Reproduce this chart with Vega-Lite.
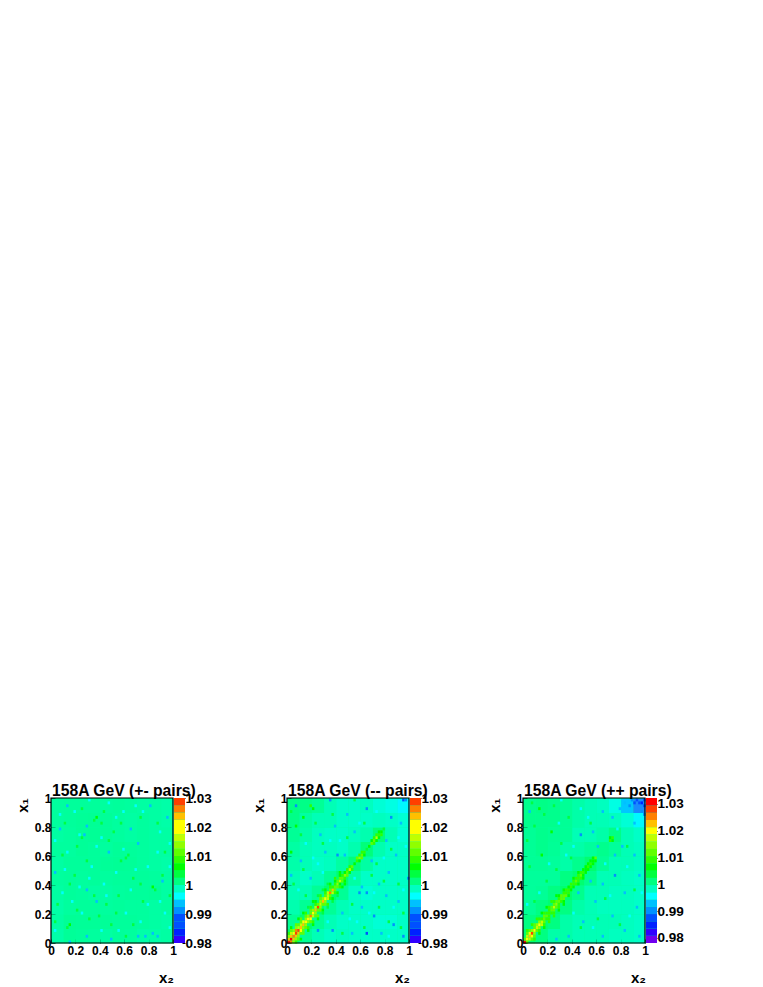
{"$schema":"https://vega.github.io/schema/vega-lite/v6.json","padding":{"left":15,"top":783,"right":0,"bottom":0},"background":"white","config":{"font":"Liberation Sans","view":{"stroke":null,"fill":"#00ffa0"},"axis":{"grid":false,"labelFont":"Liberation Sans","labelFontWeight":"bold","labelFontSize":12,"labelColor":"black","labelOverlap":false,"labelBound":false,"labelFlush":false,"domain":false,"tickColor":"black","tickSize":-4,"titleFont":"Liberation Sans","titleFontWeight":"bold","titleFontSize":15,"titleColor":"black","labelPadding":5,"zindex":1,"format":"~g"},"title":{"font":"Liberation Sans","fontWeight":"bold","fontSize":15.7,"color":"black","anchor":"start","frame":"group","offset":-8,"dx":1}},"datasets":{"bar1":[{"y":0.98,"y2":0.9825,"v":0.98125},{"y":0.9825,"y2":0.985,"v":0.98375},{"y":0.985,"y2":0.9875,"v":0.98625},{"y":0.9875,"y2":0.99,"v":0.98875},{"y":0.99,"y2":0.9925,"v":0.99125},{"y":0.9925,"y2":0.995,"v":0.99375},{"y":0.995,"y2":0.9975,"v":0.99625},{"y":0.9975,"y2":1,"v":0.99875},{"y":1,"y2":1.0025,"v":1.00125},{"y":1.0025,"y2":1.005,"v":1.00375},{"y":1.005,"y2":1.0075,"v":1.00625},{"y":1.0075,"y2":1.01,"v":1.00875},{"y":1.01,"y2":1.0125,"v":1.01125},{"y":1.0125,"y2":1.015,"v":1.01375},{"y":1.015,"y2":1.0175,"v":1.01625},{"y":1.0175,"y2":1.02,"v":1.01875},{"y":1.02,"y2":1.0225,"v":1.02125},{"y":1.0225,"y2":1.025,"v":1.02375},{"y":1.025,"y2":1.0275,"v":1.02625},{"y":1.0275,"y2":1.03,"v":1.02875}],"bar3":[{"y":0.9781,"y2":0.9808,"v":0.97945},{"y":0.9808,"y2":0.9835,"v":0.98215},{"y":0.9835,"y2":0.9862,"v":0.98485},{"y":0.9862,"y2":0.9889,"v":0.98755},{"y":0.9889,"y2":0.9916,"v":0.99025},{"y":0.9916,"y2":0.9943,"v":0.99295},{"y":0.9943,"y2":0.997,"v":0.99565},{"y":0.997,"y2":0.9997,"v":0.99835},{"y":0.9997,"y2":1.0024,"v":1.00105},{"y":1.0024,"y2":1.0051,"v":1.00375},{"y":1.0051,"y2":1.0078,"v":1.00645},{"y":1.0078,"y2":1.0105,"v":1.00915},{"y":1.0105,"y2":1.0132,"v":1.01185},{"y":1.0132,"y2":1.0159,"v":1.01455},{"y":1.0159,"y2":1.0186,"v":1.01725},{"y":1.0186,"y2":1.0213,"v":1.01995},{"y":1.0213,"y2":1.024,"v":1.02265},{"y":1.024,"y2":1.0267,"v":1.02535},{"y":1.0267,"y2":1.0294,"v":1.02805},{"y":1.0294,"y2":1.0322,"v":1.0308}],
"b1":[{"x":0.05,"y":0.05,"v":0.9998},{"x":0.15,"y":0.05,"v":1.0004},{"x":0.25,"y":0.05,"v":1.0003},{"x":0.35,"y":0.05,"v":1.0002},{"x":0.45,"y":0.05,"v":1},{"x":0.55,"y":0.05,"v":1.0003},{"x":0.65,"y":0.05,"v":1.0002},{"x":0.75,"y":0.05,"v":0.9998},{"x":0.85,"y":0.05,"v":0.9998},{"x":0.95,"y":0.05,"v":1},{"x":0.05,"y":0.15,"v":1},{"x":0.15,"y":0.15,"v":1.0005},{"x":0.25,"y":0.15,"v":1.0004},{"x":0.35,"y":0.15,"v":1.0004},{"x":0.45,"y":0.15,"v":1.0004},{"x":0.55,"y":0.15,"v":1.0003},{"x":0.65,"y":0.15,"v":1.0003},{"x":0.75,"y":0.15,"v":1.0002},{"x":0.85,"y":0.15,"v":1},{"x":0.95,"y":0.15,"v":0.9998},{"x":0.05,"y":0.25,"v":0.9998},{"x":0.15,"y":0.25,"v":1.0002},{"x":0.25,"y":0.25,"v":1.0003},{"x":0.35,"y":0.25,"v":1.0003},{"x":0.45,"y":0.25,"v":1.0002},{"x":0.55,"y":0.25,"v":1.0003},{"x":0.65,"y":0.25,"v":1.0002},{"x":0.75,"y":0.25,"v":1.0002},{"x":0.85,"y":0.25,"v":1},{"x":0.95,"y":0.25,"v":1.0002},{"x":0.05,"y":0.35,"v":1},{"x":0.15,"y":0.35,"v":1.0003},{"x":0.25,"y":0.35,"v":1.0002},{"x":0.35,"y":0.35,"v":1},{"x":0.45,"y":0.35,"v":1},{"x":0.55,"y":0.35,"v":1.0002},{"x":0.65,"y":0.35,"v":1.0003},{"x":0.75,"y":0.35,"v":1.0003},{"x":0.85,"y":0.35,"v":1.0004},{"x":0.95,"y":0.35,"v":1},{"x":0.05,"y":0.45,"v":1.0002},{"x":0.15,"y":0.45,"v":1.0003},{"x":0.25,"y":0.45,"v":1.0002},{"x":0.35,"y":0.45,"v":1.0003},{"x":0.45,"y":0.45,"v":1.0002},{"x":0.55,"y":0.45,"v":1.0003},{"x":0.65,"y":0.45,"v":1.0003},{"x":0.75,"y":0.45,"v":1.0003},{"x":0.85,"y":0.45,"v":1.0002},{"x":0.95,"y":0.45,"v":1},{"x":0.05,"y":0.55,"v":1},{"x":0.15,"y":0.55,"v":1.0003},{"x":0.25,"y":0.55,"v":1.0003},{"x":0.35,"y":0.55,"v":1.0003},{"x":0.45,"y":0.55,"v":1.0004},{"x":0.55,"y":0.55,"v":1.0005},{"x":0.65,"y":0.55,"v":1.0004},{"x":0.75,"y":0.55,"v":1.0002},{"x":0.85,"y":0.55,"v":1},{"x":0.95,"y":0.55,"v":0.9998},{"x":0.05,"y":0.65,"v":1.0002},{"x":0.15,"y":0.65,"v":1.0002},{"x":0.25,"y":0.65,"v":1.0004},{"x":0.35,"y":0.65,"v":1.0003},{"x":0.45,"y":0.65,"v":1.0002},{"x":0.55,"y":0.65,"v":1.0004},{"x":0.65,"y":0.65,"v":1.0003},{"x":0.75,"y":0.65,"v":1.0002},{"x":0.85,"y":0.65,"v":1},{"x":0.95,"y":0.65,"v":1},{"x":0.05,"y":0.75,"v":1},{"x":0.15,"y":0.75,"v":1.0002},{"x":0.25,"y":0.75,"v":1.0004},{"x":0.35,"y":0.75,"v":1.0005},{"x":0.45,"y":0.75,"v":1.0004},{"x":0.55,"y":0.75,"v":1.0002},{"x":0.65,"y":0.75,"v":1},{"x":0.75,"y":0.75,"v":1.0002},{"x":0.85,"y":0.75,"v":1},{"x":0.95,"y":0.75,"v":1},{"x":0.05,"y":0.85,"v":1.0002},{"x":0.15,"y":0.85,"v":1.0003},{"x":0.25,"y":0.85,"v":1.0004},{"x":0.35,"y":0.85,"v":1.0005},{"x":0.45,"y":0.85,"v":1.0004},{"x":0.55,"y":0.85,"v":1.0002},{"x":0.65,"y":0.85,"v":1},{"x":0.75,"y":0.85,"v":1.0002},{"x":0.85,"y":0.85,"v":1},{"x":0.95,"y":0.85,"v":0.9998},{"x":0.05,"y":0.95,"v":1.0002},{"x":0.15,"y":0.95,"v":1.0003},{"x":0.25,"y":0.95,"v":1.0003},{"x":0.35,"y":0.95,"v":1.0003},{"x":0.45,"y":0.95,"v":1.0002},{"x":0.55,"y":0.95,"v":1.0003},{"x":0.65,"y":0.95,"v":1.0002},{"x":0.75,"y":0.95,"v":1},{"x":0.85,"y":0.95,"v":1},{"x":0.95,"y":0.95,"v":0.9998}],
"f1":[{"x":0.13,"y":0.95,"v":0.994},{"x":0.31,"y":0.99,"v":0.995},{"x":0.07,"y":0.79,"v":0.993},{"x":0.29,"y":0.81,"v":0.994},{"x":0.27,"y":0.75,"v":0.994},{"x":0.23,"y":0.75,"v":0.995},{"x":0.65,"y":0.79,"v":0.994},{"x":0.71,"y":0.69,"v":0.994},{"x":0.47,"y":0.63,"v":0.994},{"x":0.03,"y":0.49,"v":0.994},{"x":0.29,"y":0.37,"v":0.993},{"x":0.23,"y":0.39,"v":0.995},{"x":0.91,"y":0.43,"v":0.994},{"x":0.65,"y":0.37,"v":0.995},{"x":0.37,"y":0.29,"v":0.994},{"x":0.49,"y":0.03,"v":0.993},{"x":0.15,"y":0.01,"v":0.994},{"x":0.71,"y":0.05,"v":0.993},{"x":0.77,"y":0.05,"v":0.994},{"x":0.83,"y":0.07,"v":0.994},{"x":0.87,"y":0.05,"v":0.994},{"x":0.29,"y":0.05,"v":0.994},{"x":0.81,"y":0.95,"v":0.994},{"x":0.69,"y":0.95,"v":0.995},{"x":0.07,"y":0.89,"v":0.995},{"x":0.47,"y":0.97,"v":0.995},{"x":0.95,"y":0.87,"v":0.994},{"x":0.79,"y":0.27,"v":0.995},{"x":0.97,"y":0.69,"v":0.995},{"x":0.53,"y":0.49,"v":0.995},{"x":0.37,"y":0.67,"v":0.996},{"x":0.41,"y":0.09,"v":0.996},{"x":0.09,"y":0.35,"v":0.996},{"x":0.59,"y":0.91,"v":0.996},{"x":0.87,"y":0.63,"v":0.996},{"x":0.03,"y":0.71,"v":0.996},{"x":0.17,"y":0.29,"v":0.996},{"x":0.61,"y":0.21,"v":0.996},{"x":0.93,"y":0.21,"v":0.996},{"x":0.79,"y":0.53,"v":0.996},{"x":0.43,"y":0.41,"v":0.996},{"x":0.33,"y":0.53,"v":0.996},{"x":0.11,"y":0.51,"v":0.996},{"x":0.19,"y":0.91,"v":0.996},{"x":0.41,"y":0.73,"v":0.996},{"x":0.53,"y":0.87,"v":0.996},{"x":0.75,"y":0.91,"v":0.996},{"x":0.89,"y":0.77,"v":0.996},{"x":0.59,"y":0.65,"v":0.996},{"x":0.69,"y":0.51,"v":0.996},{"x":0.97,"y":0.53,"v":0.996},{"x":0.45,"y":0.33,"v":0.996},{"x":0.73,"y":0.15,"v":0.996},{"x":0.89,"y":0.29,"v":0.996},{"x":0.25,"y":0.21,"v":0.996},{"x":0.03,"y":0.09,"v":0.996},{"x":0.55,"y":0.09,"v":0.996},{"x":0.97,"y":0.11,"v":0.996},{"x":0.13,"y":0.63,"v":0.996},{"x":0.31,"y":0.45,"v":0.996},{"x":0.37,"y":0.87,"v":1.006},{"x":0.35,"y":0.85,"v":1.005},{"x":0.41,"y":0.83,"v":1.004},{"x":0.25,"y":0.73,"v":1.005},{"x":0.83,"y":0.39,"v":1.006},{"x":0.85,"y":0.37,"v":1.004},{"x":0.15,"y":0.13,"v":1.006},{"x":0.13,"y":0.11,"v":1.004},{"x":0.57,"y":0.57,"v":1.005},{"x":0.61,"y":0.59,"v":1.005},{"x":0.63,"y":0.61,"v":1.004},{"x":0.75,"y":0.29,"v":1.004},{"x":0.05,"y":0.27,"v":1.004},{"x":0.21,"y":0.67,"v":1.004},{"x":0.47,"y":0.71,"v":1.004},{"x":0.31,"y":0.17,"v":1.004},{"x":0.39,"y":0.19,"v":1.004},{"x":0.53,"y":0.21,"v":1.004},{"x":0.67,"y":0.13,"v":1.004},{"x":0.49,"y":0.13,"v":1.004},{"x":0.91,"y":0.47,"v":1.003},{"x":0.19,"y":0.47,"v":1.004},{"x":0.29,"y":0.57,"v":1.004},{"x":0.15,"y":0.41,"v":1.003},{"x":0.67,"y":0.45,"v":1.004},{"x":0.73,"y":0.41,"v":1.003},{"x":0.09,"y":0.61,"v":1.003},{"x":0.11,"y":0.83,"v":1.003},{"x":0.57,"y":0.83,"v":1.003},{"x":0.73,"y":0.87,"v":1.004},{"x":0.87,"y":0.83,"v":1.003},{"x":0.55,"y":0.33,"v":1.003},{"x":0.93,"y":0.63,"v":1.003},{"x":0.43,"y":0.91,"v":1.003},{"x":0.25,"y":0.93,"v":1.003},{"x":0.35,"y":0.33,"v":1.003},{"x":0.45,"y":0.27,"v":1.003},{"x":0.61,"y":0.05,"v":1.003},{"x":0.03,"y":0.15,"v":1.003},{"x":0.97,"y":0.33,"v":1.003},{"x":0.21,"y":0.23,"v":1.003},{"x":0.51,"y":0.77,"v":1.003}],
"b2":[{"x":0.05,"y":0.05,"v":1.002},{"x":0.15,"y":0.05,"v":1.0005},{"x":0.25,"y":0.05,"v":0.9992},{"x":0.35,"y":0.05,"v":0.9985},{"x":0.45,"y":0.05,"v":0.9988},{"x":0.55,"y":0.05,"v":0.9985},{"x":0.65,"y":0.05,"v":0.9985},{"x":0.75,"y":0.05,"v":0.9985},{"x":0.85,"y":0.05,"v":0.9985},{"x":0.95,"y":0.05,"v":0.9985},{"x":0.05,"y":0.15,"v":1.0005},{"x":0.15,"y":0.15,"v":1.002},{"x":0.25,"y":0.15,"v":1.0005},{"x":0.35,"y":0.15,"v":0.9992},{"x":0.45,"y":0.15,"v":0.9985},{"x":0.55,"y":0.15,"v":0.9985},{"x":0.65,"y":0.15,"v":0.9985},{"x":0.75,"y":0.15,"v":0.998},{"x":0.85,"y":0.15,"v":0.998},{"x":0.95,"y":0.15,"v":0.9985},{"x":0.05,"y":0.25,"v":0.9995},{"x":0.15,"y":0.25,"v":1.0005},{"x":0.25,"y":0.25,"v":1.002},{"x":0.35,"y":0.25,"v":1.0005},{"x":0.45,"y":0.25,"v":0.9992},{"x":0.55,"y":0.25,"v":0.9985},{"x":0.65,"y":0.25,"v":0.9985},{"x":0.75,"y":0.25,"v":0.9985},{"x":0.85,"y":0.25,"v":0.9985},{"x":0.95,"y":0.25,"v":0.9985},{"x":0.05,"y":0.35,"v":0.9992},{"x":0.15,"y":0.35,"v":0.9992},{"x":0.25,"y":0.35,"v":1.0005},{"x":0.35,"y":0.35,"v":1.002},{"x":0.45,"y":0.35,"v":1.0005},{"x":0.55,"y":0.35,"v":0.9985},{"x":0.65,"y":0.35,"v":0.998},{"x":0.75,"y":0.35,"v":0.9985},{"x":0.85,"y":0.35,"v":0.9985},{"x":0.95,"y":0.35,"v":0.9985},{"x":0.05,"y":0.45,"v":0.9992},{"x":0.15,"y":0.45,"v":0.9985},{"x":0.25,"y":0.45,"v":0.9992},{"x":0.35,"y":0.45,"v":1.0005},{"x":0.45,"y":0.45,"v":1.002},{"x":0.55,"y":0.45,"v":1},{"x":0.65,"y":0.45,"v":0.9985},{"x":0.75,"y":0.45,"v":0.9985},{"x":0.85,"y":0.45,"v":0.9985},{"x":0.95,"y":0.45,"v":0.9985},{"x":0.05,"y":0.55,"v":0.9997},{"x":0.15,"y":0.55,"v":0.9992},{"x":0.25,"y":0.55,"v":0.9985},{"x":0.35,"y":0.55,"v":0.9988},{"x":0.45,"y":0.55,"v":1},{"x":0.55,"y":0.55,"v":1.0015},{"x":0.65,"y":0.55,"v":1},{"x":0.75,"y":0.55,"v":0.9985},{"x":0.85,"y":0.55,"v":0.9985},{"x":0.95,"y":0.55,"v":0.9985},{"x":0.05,"y":0.65,"v":1},{"x":0.15,"y":0.65,"v":0.9992},{"x":0.25,"y":0.65,"v":0.9988},{"x":0.35,"y":0.65,"v":0.9988},{"x":0.45,"y":0.65,"v":0.9985},{"x":0.55,"y":0.65,"v":0.9995},{"x":0.65,"y":0.65,"v":1.0015},{"x":0.75,"y":0.65,"v":0.9995},{"x":0.85,"y":0.65,"v":0.9985},{"x":0.95,"y":0.65,"v":0.9985},{"x":0.05,"y":0.75,"v":1.0005},{"x":0.15,"y":0.75,"v":0.9997},{"x":0.25,"y":0.75,"v":0.9988},{"x":0.35,"y":0.75,"v":0.9985},{"x":0.45,"y":0.75,"v":0.9985},{"x":0.55,"y":0.75,"v":0.9988},{"x":0.65,"y":0.75,"v":0.9995},{"x":0.75,"y":0.75,"v":1.0015},{"x":0.85,"y":0.75,"v":0.9992},{"x":0.95,"y":0.75,"v":0.998},{"x":0.05,"y":0.85,"v":1.001},{"x":0.15,"y":0.85,"v":1},{"x":0.25,"y":0.85,"v":0.9992},{"x":0.35,"y":0.85,"v":0.9992},{"x":0.45,"y":0.85,"v":0.9985},{"x":0.55,"y":0.85,"v":0.9985},{"x":0.65,"y":0.85,"v":0.9985},{"x":0.75,"y":0.85,"v":0.9988},{"x":0.85,"y":0.85,"v":0.9985},{"x":0.95,"y":0.85,"v":0.998},{"x":0.05,"y":0.95,"v":1.001},{"x":0.15,"y":0.95,"v":1.001},{"x":0.25,"y":0.95,"v":1.0005},{"x":0.35,"y":0.95,"v":0.9992},{"x":0.45,"y":0.95,"v":0.9985},{"x":0.55,"y":0.95,"v":0.9985},{"x":0.65,"y":0.95,"v":0.9988},{"x":0.75,"y":0.95,"v":0.998},{"x":0.85,"y":0.95,"v":0.9975},{"x":0.95,"y":0.95,"v":0.996}],
"f2":[{"x":0.01,"y":0.01,"v":1.029},{"x":0.03,"y":0.03,"v":1.028},{"x":0.05,"y":0.05,"v":1.024},{"x":0.07,"y":0.07,"v":1.027},{"x":0.09,"y":0.09,"v":1.026},{"x":0.11,"y":0.11,"v":1.021},{"x":0.13,"y":0.13,"v":1.02},{"x":0.15,"y":0.15,"v":1.018},{"x":0.17,"y":0.17,"v":1.019},{"x":0.19,"y":0.19,"v":1.024},{"x":0.21,"y":0.21,"v":1.018},{"x":0.23,"y":0.23,"v":1.02},{"x":0.25,"y":0.25,"v":1.027},{"x":0.27,"y":0.27,"v":1.016},{"x":0.29,"y":0.29,"v":1.02},{"x":0.31,"y":0.31,"v":1.019},{"x":0.33,"y":0.33,"v":1.016},{"x":0.35,"y":0.35,"v":1.024},{"x":0.37,"y":0.37,"v":1.021},{"x":0.39,"y":0.39,"v":1.012},{"x":0.41,"y":0.41,"v":1.014},{"x":0.43,"y":0.43,"v":1.017},{"x":0.45,"y":0.45,"v":1.012},{"x":0.47,"y":0.47,"v":1.014},{"x":0.49,"y":0.49,"v":1.011},{"x":0.51,"y":0.51,"v":1.017},{"x":0.53,"y":0.53,"v":1.012},{"x":0.55,"y":0.55,"v":1.006},{"x":0.57,"y":0.57,"v":1.009},{"x":0.59,"y":0.59,"v":1.015},{"x":0.61,"y":0.61,"v":1.012},{"x":0.63,"y":0.63,"v":1.008},{"x":0.65,"y":0.65,"v":1.004},{"x":0.67,"y":0.67,"v":1.007},{"x":0.69,"y":0.69,"v":1.01},{"x":0.71,"y":0.71,"v":1.011},{"x":0.73,"y":0.73,"v":1.017},{"x":0.75,"y":0.75,"v":1.009},{"x":0.77,"y":0.77,"v":1.007},{"x":0.79,"y":0.79,"v":1.005},{"x":0.01,"y":0.03,"v":1.022},{"x":0.03,"y":0.01,"v":1.024},{"x":0.03,"y":0.05,"v":1.022},{"x":0.05,"y":0.03,"v":1.02},{"x":0.05,"y":0.07,"v":1.019},{"x":0.07,"y":0.05,"v":1.02},{"x":0.07,"y":0.09,"v":1.023},{"x":0.09,"y":0.07,"v":1.021},{"x":0.09,"y":0.11,"v":1.017},{"x":0.11,"y":0.09,"v":1.018},{"x":0.11,"y":0.13,"v":1.016},{"x":0.13,"y":0.11,"v":1.014},{"x":0.13,"y":0.15,"v":1.018},{"x":0.15,"y":0.13,"v":1.015},{"x":0.15,"y":0.17,"v":1.013},{"x":0.17,"y":0.15,"v":1.014},{"x":0.17,"y":0.19,"v":1.014},{"x":0.19,"y":0.17,"v":1.019},{"x":0.19,"y":0.21,"v":1.012},{"x":0.21,"y":0.19,"v":1.016},{"x":0.21,"y":0.23,"v":1.014},{"x":0.23,"y":0.21,"v":1.013},{"x":0.23,"y":0.25,"v":1.017},{"x":0.25,"y":0.23,"v":1.011},{"x":0.25,"y":0.27,"v":1.012},{"x":0.27,"y":0.25,"v":1.014},{"x":0.27,"y":0.29,"v":1.013},{"x":0.29,"y":0.27,"v":1.012},{"x":0.29,"y":0.31,"v":1.013},{"x":0.31,"y":0.29,"v":1.014},{"x":0.31,"y":0.33,"v":1.011},{"x":0.33,"y":0.31,"v":1.016},{"x":0.33,"y":0.35,"v":1.017},{"x":0.35,"y":0.33,"v":1.012},{"x":0.35,"y":0.37,"v":1.012},{"x":0.37,"y":0.35,"v":1.016},{"x":0.37,"y":0.39,"v":1.009},{"x":0.39,"y":0.37,"v":1.01},{"x":0.39,"y":0.41,"v":1.008},{"x":0.41,"y":0.39,"v":1.01},{"x":0.41,"y":0.43,"v":1.01},{"x":0.43,"y":0.41,"v":1.007},{"x":0.43,"y":0.45,"v":1.011},{"x":0.45,"y":0.43,"v":1.012},{"x":0.45,"y":0.47,"v":1.009},{"x":0.47,"y":0.45,"v":1.008},{"x":0.47,"y":0.49,"v":1.007},{"x":0.49,"y":0.47,"v":1.01},{"x":0.49,"y":0.51,"v":1.009},{"x":0.51,"y":0.49,"v":1.007},{"x":0.51,"y":0.53,"v":1.008},{"x":0.53,"y":0.51,"v":1.008},{"x":0.57,"y":0.59,"v":1.01},{"x":0.59,"y":0.57,"v":1.006},{"x":0.59,"y":0.61,"v":1.009},{"x":0.61,"y":0.59,"v":1.011},{"x":0.61,"y":0.63,"v":1.008},{"x":0.63,"y":0.61,"v":1.007},{"x":0.69,"y":0.71,"v":1.007},{"x":0.71,"y":0.69,"v":1.008},{"x":0.71,"y":0.73,"v":1.008},{"x":0.73,"y":0.71,"v":1.007},{"x":0.73,"y":0.75,"v":1.008},{"x":0.75,"y":0.73,"v":1.007},{"x":0.75,"y":0.77,"v":1.006},{"x":0.77,"y":0.75,"v":1.008},{"x":0.01,"y":0.05,"v":1.014},{"x":0.05,"y":0.01,"v":1.015},{"x":0.03,"y":0.07,"v":1.016},{"x":0.07,"y":0.03,"v":1.015},{"x":0.05,"y":0.09,"v":1.014},{"x":0.09,"y":0.05,"v":1.013},{"x":0.07,"y":0.11,"v":1.013},{"x":0.11,"y":0.07,"v":1.012},{"x":0.09,"y":0.13,"v":1.012},{"x":0.13,"y":0.09,"v":1.011},{"x":0.11,"y":0.15,"v":1.012},{"x":0.15,"y":0.11,"v":1.012},{"x":0.15,"y":0.19,"v":1.01},{"x":0.19,"y":0.15,"v":1.011},{"x":0.19,"y":0.23,"v":1.01},{"x":0.23,"y":0.19,"v":1.011},{"x":0.23,"y":0.27,"v":1.009},{"x":0.27,"y":0.23,"v":1.01},{"x":0.27,"y":0.31,"v":1.01},{"x":0.31,"y":0.27,"v":1.01},{"x":0.31,"y":0.35,"v":1.008},{"x":0.35,"y":0.31,"v":1.009},{"x":0.35,"y":0.39,"v":1.008},{"x":0.39,"y":0.35,"v":1.009},{"x":0.39,"y":0.43,"v":1.007},{"x":0.43,"y":0.39,"v":1.008},{"x":0.43,"y":0.47,"v":1.006},{"x":0.47,"y":0.43,"v":1.007},{"x":0.01,"y":0.07,"v":1.008},{"x":0.07,"y":0.01,"v":1.009},{"x":0.03,"y":0.09,"v":1.012},{"x":0.09,"y":0.03,"v":1.01},{"x":0.07,"y":0.13,"v":1.012},{"x":0.13,"y":0.07,"v":1.01},{"x":0.11,"y":0.17,"v":1.01},{"x":0.17,"y":0.11,"v":1.009},{"x":0.15,"y":0.21,"v":1.008},{"x":0.21,"y":0.15,"v":1.009},{"x":0.19,"y":0.25,"v":1.008},{"x":0.25,"y":0.19,"v":1.01},{"x":0.23,"y":0.29,"v":1.007},{"x":0.29,"y":0.23,"v":1.007},{"x":0.27,"y":0.33,"v":1.008},{"x":0.33,"y":0.27,"v":1.008},{"x":0.31,"y":0.37,"v":1.006},{"x":0.37,"y":0.31,"v":1.006},{"x":0.35,"y":0.41,"v":1.006},{"x":0.41,"y":0.35,"v":1.006},{"x":0.39,"y":0.45,"v":1.008},{"x":0.45,"y":0.39,"v":1.006},{"x":0.43,"y":0.49,"v":1.006},{"x":0.47,"y":0.41,"v":1.006},{"x":0.03,"y":0.11,"v":1.007},{"x":0.11,"y":0.03,"v":1.006},{"x":0.09,"y":0.17,"v":1.007},{"x":0.17,"y":0.09,"v":1.006},{"x":0.13,"y":0.21,"v":1.006},{"x":0.21,"y":0.13,"v":1.007},{"x":0.17,"y":0.25,"v":1.005},{"x":0.25,"y":0.17,"v":1.006},{"x":0.21,"y":0.29,"v":1.006},{"x":0.29,"y":0.21,"v":1.005},{"x":0.25,"y":0.33,"v":1.005},{"x":0.33,"y":0.25,"v":1.005},{"x":0.29,"y":0.37,"v":1.005},{"x":0.37,"y":0.29,"v":1.005},{"x":0.33,"y":0.41,"v":1.005},{"x":0.41,"y":0.33,"v":1.004},{"x":0.07,"y":0.95,"v":0.992},{"x":0.95,"y":0.99,"v":0.989},{"x":0.97,"y":0.99,"v":0.99},{"x":0.35,"y":0.99,"v":0.991},{"x":0.41,"y":0.61,"v":0.99},{"x":0.47,"y":0.61,"v":0.993},{"x":0.65,"y":0.07,"v":0.989},{"x":0.95,"y":0.05,"v":0.99},{"x":0.87,"y":0.13,"v":0.99},{"x":0.71,"y":0.19,"v":0.991},{"x":0.59,"y":0.35,"v":0.99},{"x":0.65,"y":0.35,"v":0.992},{"x":0.61,"y":0.39,"v":0.993},{"x":0.37,"y":0.09,"v":0.992},{"x":0.25,"y":0.09,"v":0.992},{"x":0.03,"y":0.47,"v":0.993},{"x":0.11,"y":0.57,"v":0.993},{"x":0.27,"y":0.75,"v":0.993},{"x":0.49,"y":0.89,"v":0.993},{"x":0.65,"y":0.93,"v":0.992},{"x":0.85,"y":0.87,"v":0.992},{"x":0.81,"y":0.71,"v":0.993},{"x":0.99,"y":0.45,"v":0.992},{"x":0.83,"y":0.49,"v":0.993},{"x":0.91,"y":0.29,"v":0.993},{"x":0.53,"y":0.07,"v":0.993},{"x":0.77,"y":0.07,"v":0.993},{"x":0.69,"y":0.57,"v":0.994},{"x":0.89,"y":0.61,"v":0.994},{"x":0.55,"y":0.77,"v":0.994},{"x":0.19,"y":0.45,"v":0.994},{"x":0.31,"y":0.63,"v":0.994},{"x":0.75,"y":0.41,"v":0.994},{"x":0.93,"y":0.83,"v":0.994},{"x":0.45,"y":0.21,"v":0.994},{"x":0.61,"y":0.25,"v":0.994},{"x":0.81,"y":0.33,"v":0.994},{"x":0.39,"y":0.81,"v":0.994},{"x":0.15,"y":0.69,"v":0.995},{"x":0.09,"y":0.37,"v":0.995},{"x":0.57,"y":0.15,"v":0.995},{"x":0.73,"y":0.91,"v":0.995},{"x":0.97,"y":0.67,"v":0.995},{"x":0.87,"y":0.25,"v":0.995},{"x":0.33,"y":0.15,"v":0.996},{"x":0.55,"y":0.45,"v":0.996},{"x":0.25,"y":0.55,"v":0.995},{"x":0.43,"y":0.71,"v":0.996},{"x":0.59,"y":0.83,"v":0.996},{"x":0.79,"y":0.59,"v":0.996},{"x":0.91,"y":0.73,"v":0.996},{"x":0.71,"y":0.35,"v":0.996},{"x":0.95,"y":0.37,"v":0.996},{"x":0.67,"y":0.21,"v":0.996},{"x":0.51,"y":0.17,"v":0.996},{"x":0.83,"y":0.05,"v":0.996},{"x":0.29,"y":0.49,"v":0.996},{"x":0.21,"y":0.59,"v":0.996},{"x":0.35,"y":0.71,"v":0.996},{"x":0.07,"y":0.81,"v":1.006},{"x":0.13,"y":0.87,"v":1.007},{"x":0.19,"y":0.95,"v":1.008},{"x":0.21,"y":0.93,"v":1.006},{"x":0.03,"y":0.91,"v":1.005},{"x":0.03,"y":0.63,"v":1.006},{"x":0.11,"y":0.75,"v":1.005},{"x":0.29,"y":0.69,"v":1.004},{"x":0.37,"y":0.89,"v":1.005},{"x":0.63,"y":0.83,"v":1.005},{"x":0.55,"y":0.99,"v":1.004},{"x":0.85,"y":0.65,"v":1.005},{"x":0.91,"y":0.41,"v":1.005},{"x":0.75,"y":0.25,"v":1.004},{"x":0.63,"y":0.11,"v":1.004},{"x":0.45,"y":0.07,"v":1.005},{"x":0.93,"y":0.11,"v":1.004},{"x":0.15,"y":0.33,"v":1.004},{"x":0.05,"y":0.41,"v":1.004},{"x":0.83,"y":0.15,"v":1.003},{"x":0.69,"y":0.47,"v":1.003},{"x":0.53,"y":0.27,"v":1.003},{"x":0.49,"y":0.73,"v":1.003},{"x":0.23,"y":0.83,"v":1.003},{"x":0.79,"y":0.43,"v":1.003},{"x":0.95,"y":0.21,"v":1.003},{"x":0.13,"y":0.51,"v":1.003},{"x":0.73,"y":0.55,"v":1.003}],
"b3":[{"x":0.05,"y":0.05,"v":1.002},{"x":0.15,"y":0.05,"v":1.0012},{"x":0.25,"y":0.05,"v":0.9998},{"x":0.35,"y":0.05,"v":0.9998},{"x":0.45,"y":0.05,"v":0.9992},{"x":0.55,"y":0.05,"v":0.9992},{"x":0.65,"y":0.05,"v":0.9992},{"x":0.75,"y":0.05,"v":0.9988},{"x":0.85,"y":0.05,"v":0.9988},{"x":0.95,"y":0.05,"v":0.9985},{"x":0.05,"y":0.15,"v":1.0012},{"x":0.15,"y":0.15,"v":1.002},{"x":0.25,"y":0.15,"v":1.0012},{"x":0.35,"y":0.15,"v":0.9998},{"x":0.45,"y":0.15,"v":0.9992},{"x":0.55,"y":0.15,"v":0.9992},{"x":0.65,"y":0.15,"v":0.9992},{"x":0.75,"y":0.15,"v":0.9992},{"x":0.85,"y":0.15,"v":0.9988},{"x":0.95,"y":0.15,"v":0.9985},{"x":0.05,"y":0.25,"v":1.0005},{"x":0.15,"y":0.25,"v":1.0012},{"x":0.25,"y":0.25,"v":1.002},{"x":0.35,"y":0.25,"v":1.0012},{"x":0.45,"y":0.25,"v":0.9998},{"x":0.55,"y":0.25,"v":0.9992},{"x":0.65,"y":0.25,"v":0.9988},{"x":0.75,"y":0.25,"v":0.9988},{"x":0.85,"y":0.25,"v":0.9988},{"x":0.95,"y":0.25,"v":0.9985},{"x":0.05,"y":0.35,"v":1.0003},{"x":0.15,"y":0.35,"v":1.0005},{"x":0.25,"y":0.35,"v":1.0012},{"x":0.35,"y":0.35,"v":1.002},{"x":0.45,"y":0.35,"v":1.0008},{"x":0.55,"y":0.35,"v":0.9992},{"x":0.65,"y":0.35,"v":0.9992},{"x":0.75,"y":0.35,"v":0.9988},{"x":0.85,"y":0.35,"v":0.9988},{"x":0.95,"y":0.35,"v":0.9985},{"x":0.05,"y":0.45,"v":1.0003},{"x":0.15,"y":0.45,"v":1.0003},{"x":0.25,"y":0.45,"v":1.0003},{"x":0.35,"y":0.45,"v":1.0012},{"x":0.45,"y":0.45,"v":1.002},{"x":0.55,"y":0.45,"v":1.0008},{"x":0.65,"y":0.45,"v":0.9992},{"x":0.75,"y":0.45,"v":0.9992},{"x":0.85,"y":0.45,"v":0.9988},{"x":0.95,"y":0.45,"v":0.9985},{"x":0.05,"y":0.55,"v":1.0005},{"x":0.15,"y":0.55,"v":1.0005},{"x":0.25,"y":0.55,"v":1.0003},{"x":0.35,"y":0.55,"v":0.9998},{"x":0.45,"y":0.55,"v":1.0008},{"x":0.55,"y":0.55,"v":1.002},{"x":0.65,"y":0.55,"v":1.0005},{"x":0.75,"y":0.55,"v":0.9992},{"x":0.85,"y":0.55,"v":0.9992},{"x":0.95,"y":0.55,"v":0.9988},{"x":0.05,"y":0.65,"v":1.0005},{"x":0.15,"y":0.65,"v":1.0008},{"x":0.25,"y":0.65,"v":1.0005},{"x":0.35,"y":0.65,"v":0.9998},{"x":0.45,"y":0.65,"v":0.9998},{"x":0.55,"y":0.65,"v":1.0003},{"x":0.65,"y":0.65,"v":1.0008},{"x":0.75,"y":0.65,"v":1.0003},{"x":0.85,"y":0.65,"v":0.9992},{"x":0.95,"y":0.65,"v":0.9988},{"x":0.05,"y":0.75,"v":1.0005},{"x":0.15,"y":0.75,"v":1.0008},{"x":0.25,"y":0.75,"v":1.0006},{"x":0.35,"y":0.75,"v":1.0005},{"x":0.45,"y":0.75,"v":0.9992},{"x":0.55,"y":0.75,"v":0.9992},{"x":0.65,"y":0.75,"v":0.9998},{"x":0.75,"y":0.75,"v":1.001},{"x":0.85,"y":0.75,"v":0.9992},{"x":0.95,"y":0.75,"v":0.9985},{"x":0.05,"y":0.85,"v":1.0008},{"x":0.15,"y":0.85,"v":1.0008},{"x":0.25,"y":0.85,"v":1.0008},{"x":0.35,"y":0.85,"v":1.0005},{"x":0.45,"y":0.85,"v":0.9998},{"x":0.55,"y":0.85,"v":0.9992},{"x":0.65,"y":0.85,"v":0.9992},{"x":0.75,"y":0.85,"v":0.9988},{"x":0.85,"y":0.85,"v":0.998},{"x":0.95,"y":0.85,"v":0.996},{"x":0.05,"y":0.95,"v":1.0008},{"x":0.15,"y":0.95,"v":1.001},{"x":0.25,"y":0.95,"v":1.0008},{"x":0.35,"y":0.95,"v":1.0005},{"x":0.45,"y":0.95,"v":0.9998},{"x":0.55,"y":0.95,"v":0.9992},{"x":0.65,"y":0.95,"v":0.9988},{"x":0.75,"y":0.95,"v":0.9975},{"x":0.85,"y":0.95,"v":0.994},{"x":0.95,"y":0.95,"v":0.991}],
"f3":[{"x":0.01,"y":0.01,"v":1.031},{"x":0.03,"y":0.03,"v":1.021},{"x":0.05,"y":0.05,"v":1.024},{"x":0.07,"y":0.07,"v":1.027},{"x":0.09,"y":0.09,"v":1.019},{"x":0.11,"y":0.11,"v":1.017},{"x":0.13,"y":0.13,"v":1.019},{"x":0.15,"y":0.15,"v":1.016},{"x":0.17,"y":0.17,"v":1.012},{"x":0.19,"y":0.19,"v":1.013},{"x":0.21,"y":0.21,"v":1.01},{"x":0.23,"y":0.23,"v":1.012},{"x":0.25,"y":0.25,"v":1.018},{"x":0.27,"y":0.27,"v":1.014},{"x":0.29,"y":0.29,"v":1.012},{"x":0.31,"y":0.31,"v":1.013},{"x":0.33,"y":0.33,"v":1.012},{"x":0.35,"y":0.35,"v":1.009},{"x":0.37,"y":0.37,"v":1.01},{"x":0.39,"y":0.39,"v":1.008},{"x":0.41,"y":0.41,"v":1.01},{"x":0.43,"y":0.43,"v":1.012},{"x":0.45,"y":0.45,"v":1.009},{"x":0.47,"y":0.47,"v":1.012},{"x":0.49,"y":0.49,"v":1.009},{"x":0.51,"y":0.51,"v":1.007},{"x":0.53,"y":0.53,"v":1.008},{"x":0.55,"y":0.55,"v":1.009},{"x":0.57,"y":0.57,"v":1.007},{"x":0.59,"y":0.59,"v":1.011},{"x":0.01,"y":0.03,"v":1.012},{"x":0.03,"y":0.01,"v":1.013},{"x":0.03,"y":0.05,"v":1.017},{"x":0.05,"y":0.03,"v":1.017},{"x":0.05,"y":0.07,"v":1.019},{"x":0.07,"y":0.05,"v":1.02},{"x":0.07,"y":0.09,"v":1.014},{"x":0.09,"y":0.07,"v":1.015},{"x":0.09,"y":0.11,"v":1.012},{"x":0.11,"y":0.09,"v":1.013},{"x":0.11,"y":0.13,"v":1.015},{"x":0.13,"y":0.11,"v":1.014},{"x":0.13,"y":0.15,"v":1.015},{"x":0.15,"y":0.13,"v":1.016},{"x":0.15,"y":0.17,"v":1.009},{"x":0.17,"y":0.15,"v":1.012},{"x":0.17,"y":0.19,"v":1.012},{"x":0.19,"y":0.17,"v":1.01},{"x":0.19,"y":0.21,"v":1.008},{"x":0.21,"y":0.19,"v":1.008},{"x":0.21,"y":0.23,"v":1.008},{"x":0.23,"y":0.21,"v":1.01},{"x":0.23,"y":0.25,"v":1.012},{"x":0.25,"y":0.23,"v":1.011},{"x":0.25,"y":0.27,"v":1.012},{"x":0.27,"y":0.25,"v":1.013},{"x":0.27,"y":0.29,"v":1.011},{"x":0.29,"y":0.27,"v":1.01},{"x":0.29,"y":0.31,"v":1.008},{"x":0.31,"y":0.29,"v":1.009},{"x":0.31,"y":0.33,"v":1.012},{"x":0.33,"y":0.31,"v":1.013},{"x":0.33,"y":0.35,"v":1.009},{"x":0.35,"y":0.33,"v":1.011},{"x":0.35,"y":0.37,"v":1.008},{"x":0.37,"y":0.35,"v":1.008},{"x":0.37,"y":0.39,"v":1.006},{"x":0.39,"y":0.37,"v":1.007},{"x":0.39,"y":0.41,"v":1.008},{"x":0.41,"y":0.39,"v":1.007},{"x":0.41,"y":0.43,"v":1.01},{"x":0.43,"y":0.41,"v":1.009},{"x":0.43,"y":0.45,"v":1.008},{"x":0.45,"y":0.43,"v":1.009},{"x":0.45,"y":0.47,"v":1.009},{"x":0.47,"y":0.45,"v":1.01},{"x":0.47,"y":0.49,"v":1.01},{"x":0.49,"y":0.47,"v":1.007},{"x":0.49,"y":0.51,"v":1.007},{"x":0.51,"y":0.49,"v":1.007},{"x":0.51,"y":0.53,"v":1.006},{"x":0.53,"y":0.51,"v":1.006},{"x":0.53,"y":0.55,"v":1.007},{"x":0.55,"y":0.53,"v":1.006},{"x":0.55,"y":0.57,"v":1.007},{"x":0.57,"y":0.55,"v":1.006},{"x":0.57,"y":0.59,"v":1.006},{"x":0.59,"y":0.57,"v":1.007},{"x":0.03,"y":0.07,"v":1.012},{"x":0.07,"y":0.03,"v":1.011},{"x":0.05,"y":0.09,"v":1.012},{"x":0.09,"y":0.05,"v":1.011},{"x":0.09,"y":0.13,"v":1.011},{"x":0.13,"y":0.09,"v":1.01},{"x":0.13,"y":0.17,"v":1.01},{"x":0.17,"y":0.13,"v":1.01},{"x":0.17,"y":0.21,"v":1.008},{"x":0.21,"y":0.17,"v":1.008},{"x":0.21,"y":0.25,"v":1.008},{"x":0.25,"y":0.21,"v":1.009},{"x":0.25,"y":0.29,"v":1.008},{"x":0.29,"y":0.25,"v":1.008},{"x":0.29,"y":0.33,"v":1.007},{"x":0.33,"y":0.29,"v":1.007},{"x":0.33,"y":0.37,"v":1.006},{"x":0.37,"y":0.33,"v":1.006},{"x":0.41,"y":0.45,"v":1.006},{"x":0.45,"y":0.41,"v":1.007},{"x":0.45,"y":0.49,"v":1.006},{"x":0.49,"y":0.45,"v":1.007},{"x":0.03,"y":0.09,"v":1.008},{"x":0.09,"y":0.03,"v":1.008},{"x":0.07,"y":0.13,"v":1.008},{"x":0.13,"y":0.07,"v":1.007},{"x":0.11,"y":0.17,"v":1.009},{"x":0.17,"y":0.11,"v":1.007},{"x":0.15,"y":0.21,"v":1.007},{"x":0.21,"y":0.15,"v":1.008},{"x":0.19,"y":0.25,"v":1.006},{"x":0.25,"y":0.19,"v":1.008},{"x":0.23,"y":0.29,"v":1.008},{"x":0.29,"y":0.23,"v":1.007},{"x":0.27,"y":0.33,"v":1.006},{"x":0.33,"y":0.27,"v":1.006},{"x":0.71,"y":0.71,"v":1.008},{"x":0.73,"y":0.73,"v":1.009},{"x":0.71,"y":0.73,"v":1.007},{"x":0.73,"y":0.71,"v":1.007},{"x":0.89,"y":0.99,"v":0.989},{"x":0.91,"y":0.97,"v":0.988},{"x":0.93,"y":0.99,"v":0.988},{"x":0.95,"y":0.97,"v":0.987},{"x":0.97,"y":0.97,"v":0.986},{"x":0.99,"y":0.99,"v":0.987},{"x":0.99,"y":0.95,"v":0.988},{"x":0.97,"y":0.91,"v":0.99},{"x":0.99,"y":0.89,"v":0.991},{"x":0.87,"y":0.95,"v":0.991},{"x":0.83,"y":0.97,"v":0.992},{"x":0.79,"y":0.93,"v":0.993},{"x":0.05,"y":0.91,"v":0.994},{"x":0.31,"y":0.99,"v":0.995},{"x":0.47,"y":0.93,"v":0.995},{"x":0.65,"y":0.91,"v":0.993},{"x":0.73,"y":0.87,"v":0.993},{"x":0.91,"y":0.83,"v":0.992},{"x":0.47,"y":0.75,"v":0.99},{"x":0.57,"y":0.77,"v":0.993},{"x":0.61,"y":0.67,"v":0.993},{"x":0.81,"y":0.67,"v":0.993},{"x":0.91,"y":0.61,"v":0.993},{"x":0.75,"y":0.61,"v":0.994},{"x":0.55,"y":0.43,"v":0.992},{"x":0.75,"y":0.47,"v":0.99},{"x":0.65,"y":0.41,"v":0.993},{"x":0.95,"y":0.47,"v":0.993},{"x":0.83,"y":0.35,"v":0.993},{"x":0.45,"y":0.35,"v":0.994},{"x":0.59,"y":0.29,"v":0.993},{"x":0.93,"y":0.25,"v":0.992},{"x":0.49,"y":0.15,"v":0.993},{"x":0.65,"y":0.05,"v":0.993},{"x":0.37,"y":0.05,"v":0.992},{"x":0.83,"y":0.09,"v":0.993},{"x":0.95,"y":0.05,"v":0.994},{"x":0.73,"y":0.19,"v":0.994},{"x":0.27,"y":0.03,"v":0.994},{"x":0.21,"y":0.55,"v":0.995},{"x":0.13,"y":0.35,"v":0.995},{"x":0.35,"y":0.61,"v":0.995},{"x":0.03,"y":0.27,"v":0.995},{"x":0.29,"y":0.83,"v":0.995},{"x":0.41,"y":0.67,"v":0.996},{"x":0.53,"y":0.87,"v":0.996},{"x":0.67,"y":0.55,"v":0.996},{"x":0.85,"y":0.53,"v":0.996},{"x":0.71,"y":0.33,"v":0.996},{"x":0.87,"y":0.19,"v":0.996},{"x":0.57,"y":0.11,"v":0.996},{"x":0.41,"y":0.21,"v":0.996},{"x":0.97,"y":0.35,"v":0.996},{"x":0.77,"y":0.79,"v":0.996},{"x":0.13,"y":0.93,"v":1.006},{"x":0.09,"y":0.81,"v":1.005},{"x":0.17,"y":0.89,"v":1.005},{"x":0.23,"y":0.77,"v":1.006},{"x":0.15,"y":0.61,"v":1.006},{"x":0.37,"y":0.87,"v":1.004},{"x":0.05,"y":0.53,"v":1.004},{"x":0.27,"y":0.51,"v":1.004},{"x":0.55,"y":0.83,"v":1.004},{"x":0.85,"y":0.67,"v":1.004},{"x":0.67,"y":0.31,"v":1.004},{"x":0.79,"y":0.13,"v":1.004},{"x":0.47,"y":0.11,"v":1.004},{"x":0.91,"y":0.37,"v":1.003},{"x":0.61,"y":0.17,"v":1.003},{"x":0.09,"y":0.29,"v":1.004},{"x":0.39,"y":0.59,"v":1.004},{"x":0.03,"y":0.71,"v":1.004},{"x":0.19,"y":0.43,"v":1.004},{"x":0.31,"y":0.69,"v":1.004},{"x":0.07,"y":0.97,"v":1.004},{"x":0.25,"y":0.95,"v":1.005}]},
"hconcat":[
{"bounds":"flush","spacing":1,"hconcat":[
{"title":"158A GeV (+- pairs)","width":122,"height":145,"resolve":{"scale":{"color":"independent"}},"layer":[
{"data":{"name":"b1"},"mark":{"type":"rect","stroke":null},"encoding":{"x":{"field":"x","type":"quantitative","bin":{"step":0.1,"extent":[0,1]},"scale":{"domain":[0,1]},"axis":{"values":[0,0.2,0.4,0.6,0.8,1],"title":"x₂","titleX":115,"titleY":27,"labelPadding":6}},"y":{"field":"y","type":"quantitative","bin":{"step":0.1,"extent":[0,1]},"scale":{"domain":[0,1]},"axis":{"values":[0,0.2,0.4,0.6,0.8,1],"title":"x₁","titleX":-21,"titleY":7,"labelPadding":4}},"color":{"field":"v","type":"quantitative","legend":null,"scale":{"type":"linear","domain":[0.99125,0.99375,0.99625,0.99875,1.00125,1.00375,1.00625,1.00875],"range":["#0090ff","#00c0ff","#00ffff","#00ffc0","#00ff80","#00ff40","#00ff00","#30ff00"]}}}},
{"data":{"name":"f1"},"mark":{"type":"rect","stroke":null},"encoding":{"x":{"field":"x","type":"quantitative","bin":{"step":0.02,"extent":[0,1]},"axis":{"values":[0,0.2,0.4,0.6,0.8,1],"title":"x₂","titleX":115,"titleY":27,"labelPadding":6}},"y":{"field":"y","type":"quantitative","bin":{"step":0.02,"extent":[0,1]},"axis":{"values":[0,0.2,0.4,0.6,0.8,1],"title":"x₁","titleX":-21,"titleY":7,"labelPadding":4}},"color":{"field":"v","type":"quantitative","legend":null,"scale":{"type":"quantize","domain":[0.98,1.03],"range":["#7000ee","#3000ff","#0020ff","#0050ff","#0090ff","#00c0ff","#00ffff","#00ffc0","#00ff80","#00ff40","#00ff00","#30ff00","#60ff00","#90ff00","#c0ff00","#ffff00","#ffc000","#ff8000","#ff4000","#ff0000"]}}}},
{"data":{"values":[{"x":0,"x2":1,"y":0,"y2":1}]},"mark":{"type":"rect","fill":"transparent","stroke":"black","strokeWidth":1.2},"encoding":{"x":{"field":"x","type":"quantitative","axis":{"values":[0,0.2,0.4,0.6,0.8,1],"title":"x₂","titleX":115,"titleY":27,"labelPadding":6}},"x2":{"field":"x2"},"y":{"field":"y","type":"quantitative","axis":{"values":[0,0.2,0.4,0.6,0.8,1],"title":"x₁","titleX":-21,"titleY":7,"labelPadding":4}},"y2":{"field":"y2"}}}
]},
{"data":{"name":"bar1"},"width":11,"height":145,"mark":{"type":"rect"},"encoding":{"y":{"field":"y","type":"quantitative","scale":{"domain":[0.98,1.03]},"axis":{"orient":"right","values":[0.98,0.99,1,1.01,1.02,1.03],"title":null,"labelFontSize":13.5,"labelPadding":3,"tickSize":-3}},"y2":{"field":"y2"},"color":{"field":"v","type":"quantitative","legend":null,"scale":{"type":"quantize","domain":[0.98,1.03],"range":["#7000ee","#3000ff","#0020ff","#0050ff","#0090ff","#00c0ff","#00ffff","#00ffc0","#00ff80","#00ff40","#00ff00","#30ff00","#60ff00","#90ff00","#c0ff00","#ffff00","#ffc000","#ff8000","#ff4000","#ff0000"]}}}}
]},
{"bounds":"flush","spacing":1,"hconcat":[
{"title":"158A GeV (-- pairs)","width":122,"height":145,"resolve":{"scale":{"color":"independent"}},"layer":[
{"data":{"name":"b2"},"mark":{"type":"rect","stroke":null},"encoding":{"x":{"field":"x","type":"quantitative","bin":{"step":0.1,"extent":[0,1]},"scale":{"domain":[0,1]},"axis":{"values":[0,0.2,0.4,0.6,0.8,1],"title":"x₂","titleX":115,"titleY":27,"labelPadding":6}},"y":{"field":"y","type":"quantitative","bin":{"step":0.1,"extent":[0,1]},"scale":{"domain":[0,1]},"axis":{"values":[0,0.2,0.4,0.6,0.8,1],"title":"x₁","titleX":-21,"titleY":7,"labelPadding":4}},"color":{"field":"v","type":"quantitative","legend":null,"scale":{"type":"linear","domain":[0.99125,0.99375,0.99625,0.99875,1.00125,1.00375,1.00625,1.00875],"range":["#0090ff","#00c0ff","#00ffff","#00ffc0","#00ff80","#00ff40","#00ff00","#30ff00"]}}}},
{"data":{"name":"f2"},"mark":{"type":"rect","stroke":null},"encoding":{"x":{"field":"x","type":"quantitative","bin":{"step":0.02,"extent":[0,1]},"axis":{"values":[0,0.2,0.4,0.6,0.8,1],"title":"x₂","titleX":115,"titleY":27,"labelPadding":6}},"y":{"field":"y","type":"quantitative","bin":{"step":0.02,"extent":[0,1]},"axis":{"values":[0,0.2,0.4,0.6,0.8,1],"title":"x₁","titleX":-21,"titleY":7,"labelPadding":4}},"color":{"field":"v","type":"quantitative","legend":null,"scale":{"type":"quantize","domain":[0.98,1.03],"range":["#7000ee","#3000ff","#0020ff","#0050ff","#0090ff","#00c0ff","#00ffff","#00ffc0","#00ff80","#00ff40","#00ff00","#30ff00","#60ff00","#90ff00","#c0ff00","#ffff00","#ffc000","#ff8000","#ff4000","#ff0000"]}}}},
{"data":{"values":[{"x":0,"x2":1,"y":0,"y2":1}]},"mark":{"type":"rect","fill":"transparent","stroke":"black","strokeWidth":1.2},"encoding":{"x":{"field":"x","type":"quantitative","axis":{"values":[0,0.2,0.4,0.6,0.8,1],"title":"x₂","titleX":115,"titleY":27,"labelPadding":6}},"x2":{"field":"x2"},"y":{"field":"y","type":"quantitative","axis":{"values":[0,0.2,0.4,0.6,0.8,1],"title":"x₁","titleX":-21,"titleY":7,"labelPadding":4}},"y2":{"field":"y2"}}}
]},
{"data":{"name":"bar1"},"width":11,"height":145,"mark":{"type":"rect"},"encoding":{"y":{"field":"y","type":"quantitative","scale":{"domain":[0.98,1.03]},"axis":{"orient":"right","values":[0.98,0.99,1,1.01,1.02,1.03],"title":null,"labelFontSize":13.5,"labelPadding":3,"tickSize":-3}},"y2":{"field":"y2"},"color":{"field":"v","type":"quantitative","legend":null,"scale":{"type":"quantize","domain":[0.98,1.03],"range":["#7000ee","#3000ff","#0020ff","#0050ff","#0090ff","#00c0ff","#00ffff","#00ffc0","#00ff80","#00ff40","#00ff00","#30ff00","#60ff00","#90ff00","#c0ff00","#ffff00","#ffc000","#ff8000","#ff4000","#ff0000"]}}}}
]},
{"bounds":"flush","spacing":1,"hconcat":[
{"title":"158A GeV (++ pairs)","width":122,"height":145,"resolve":{"scale":{"color":"independent"}},"layer":[
{"data":{"name":"b3"},"mark":{"type":"rect","stroke":null},"encoding":{"x":{"field":"x","type":"quantitative","bin":{"step":0.1,"extent":[0,1]},"scale":{"domain":[0,1]},"axis":{"values":[0,0.2,0.4,0.6,0.8,1],"title":"x₂","titleX":115,"titleY":27,"labelPadding":6}},"y":{"field":"y","type":"quantitative","bin":{"step":0.1,"extent":[0,1]},"scale":{"domain":[0,1]},"axis":{"values":[0,0.2,0.4,0.6,0.8,1],"title":"x₁","titleX":-21,"titleY":7,"labelPadding":4}},"color":{"field":"v","type":"quantitative","legend":null,"scale":{"type":"linear","domain":[0.99125,0.99375,0.99625,0.99875,1.00125,1.00375,1.00625,1.00875],"range":["#0090ff","#00c0ff","#00ffff","#00ffc0","#00ff80","#00ff40","#00ff00","#30ff00"]}}}},
{"data":{"name":"f3"},"mark":{"type":"rect","stroke":null},"encoding":{"x":{"field":"x","type":"quantitative","bin":{"step":0.02,"extent":[0,1]},"axis":{"values":[0,0.2,0.4,0.6,0.8,1],"title":"x₂","titleX":115,"titleY":27,"labelPadding":6}},"y":{"field":"y","type":"quantitative","bin":{"step":0.02,"extent":[0,1]},"axis":{"values":[0,0.2,0.4,0.6,0.8,1],"title":"x₁","titleX":-21,"titleY":7,"labelPadding":4}},"color":{"field":"v","type":"quantitative","legend":null,"scale":{"type":"quantize","domain":[0.9781,1.0322],"range":["#7000ee","#3000ff","#0020ff","#0050ff","#0090ff","#00c0ff","#00ffff","#00ffc0","#00ff80","#00ff40","#00ff00","#30ff00","#60ff00","#90ff00","#c0ff00","#ffff00","#ffc000","#ff8000","#ff4000","#ff0000"]}}}},
{"data":{"values":[{"x":0,"x2":1,"y":0,"y2":1}]},"mark":{"type":"rect","fill":"transparent","stroke":"black","strokeWidth":1.2},"encoding":{"x":{"field":"x","type":"quantitative","axis":{"values":[0,0.2,0.4,0.6,0.8,1],"title":"x₂","titleX":115,"titleY":27,"labelPadding":6}},"x2":{"field":"x2"},"y":{"field":"y","type":"quantitative","axis":{"values":[0,0.2,0.4,0.6,0.8,1],"title":"x₁","titleX":-21,"titleY":7,"labelPadding":4}},"y2":{"field":"y2"}}}
]},
{"data":{"name":"bar3"},"width":11,"height":145,"mark":{"type":"rect"},"encoding":{"y":{"field":"y","type":"quantitative","scale":{"domain":[0.9781,1.0322]},"axis":{"orient":"right","values":[0.98,0.99,1,1.01,1.02,1.03],"title":null,"labelFontSize":13.5,"labelPadding":3,"tickSize":-3}},"y2":{"field":"y2"},"color":{"field":"v","type":"quantitative","legend":null,"scale":{"type":"quantize","domain":[0.9781,1.0322],"range":["#7000ee","#3000ff","#0020ff","#0050ff","#0090ff","#00c0ff","#00ffff","#00ffc0","#00ff80","#00ff40","#00ff00","#30ff00","#60ff00","#90ff00","#c0ff00","#ffff00","#ffc000","#ff8000","#ff4000","#ff0000"]}}}}
]}
],"bounds":"flush","spacing":236}
